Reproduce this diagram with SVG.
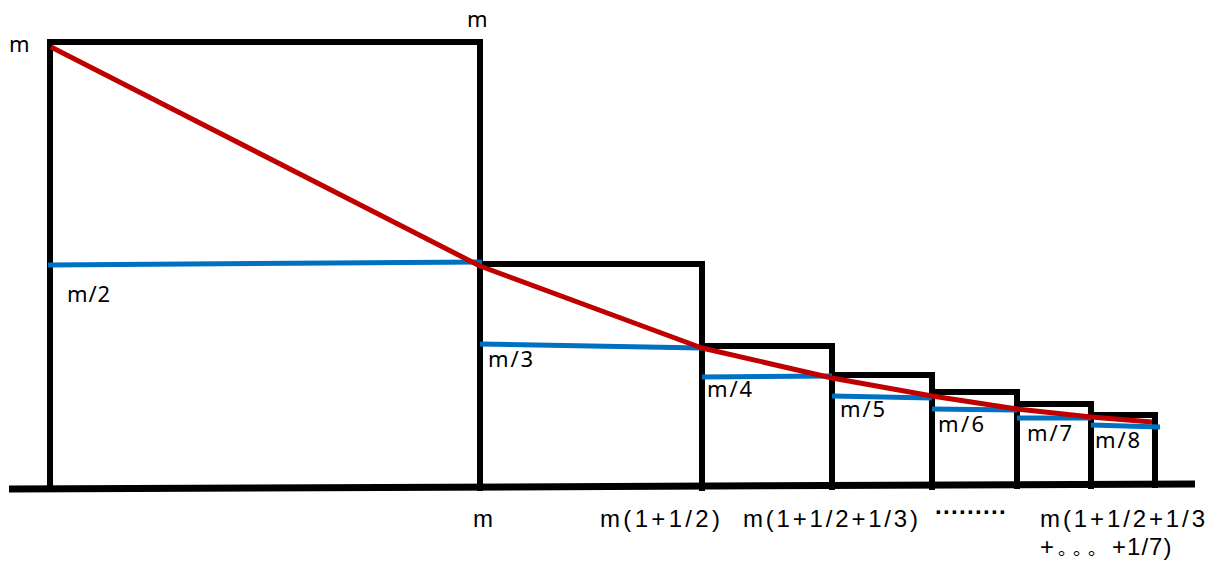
<svg xmlns="http://www.w3.org/2000/svg" width="1222" height="563" viewBox="0 0 1222 563">
<style>
.box{fill:none;stroke:#000;stroke-width:6;stroke-linejoin:miter;stroke-linecap:square}
.axis{fill:none;stroke:#000;stroke-width:7}
.avg{fill:none;stroke:#0070c0;stroke-width:5}
.curve{fill:none;stroke:#c00000;stroke-width:5;stroke-linejoin:round}
.lbl{font-family:"Noto Sans","Liberation Sans",sans-serif;font-size:22px;fill:#000}
.ax{font-family:"Liberation Sans","Noto Sans CJK SC",sans-serif;font-size:24px;fill:#000}
.cj{font-family:"Noto Sans CJK SC",sans-serif;font-size:18px;letter-spacing:6px}
</style>
<rect width="1222" height="563" fill="#fff"/>
<g id="axis"><path class="axis" d="M9,489 L1195,484"/></g>
<g id="box1"><path class="box" d="M50,488 V42 H480 V488"/></g>
<g id="box2"><path class="box" d="M480,488 V264 H702 V488"/></g>
<g id="box3"><path class="box" d="M702,488 V346 H832 V487"/></g>
<g id="box4"><path class="box" d="M832,487 V375 H932 V487"/></g>
<g id="box5"><path class="box" d="M932,487 V392 H1017 V486"/></g>
<g id="box6"><path class="box" d="M1017,486 V404 H1091 V486"/></g>
<g id="box7"><path class="box" d="M1091,486 V415 H1155 V485"/></g>
<g id="connectors">
<path class="avg" d="M48,265 L482,262"/>
<path class="avg" d="M480,344 L702,348"/>
<path class="avg" d="M702,377 L832,376"/>
<path class="avg" d="M832,396 L932,398"/>
<path class="avg" d="M932,409 L1017,410"/>
<path class="avg" d="M1017,418 L1091,418"/>
<path class="avg" d="M1091,425 L1160,427"/>
<path class="curve" d="M51,47 L480,266 L702,348 L832,378 L932,396 L1017,409 L1091,417 L1152,422"/>
</g>
<g id="labels">
<text class="lbl" x="9" y="52" font-size="23">m</text>
<text class="lbl" x="467" y="27" font-size="23">m</text>
<text class="lbl" x="67" y="302" textLength="43">m/2</text>
<text class="lbl" x="488" y="367" textLength="45">m/3</text>
<text class="lbl" x="707" y="397" textLength="45">m/4</text>
<text class="lbl" x="840" y="417" textLength="45">m/5</text>
<text class="lbl" x="938" y="432" textLength="46">m/6</text>
<text class="lbl" x="1027" y="441" textLength="45">m/7</text>
<text class="lbl" x="1095" y="448" textLength="45">m/8</text>
</g>
<g id="axis-labels">
<text class="ax" x="473" y="527" font-size="22">m</text>
<text class="ax" x="600" y="527" textLength="120">m(1+1/2)</text>
<text class="ax" x="743" y="527" textLength="175">m(1+1/2+1/3)</text>
<text class="ax" x="935" y="520" font-size="22" font-weight="bold" textLength="72">·········</text>
<text class="ax" x="1040" y="527" textLength="165">m(1+1/2+1/3</text>
<text class="ax" x="1040" y="555">+<tspan class="cj" dx="4">。。。</tspan><tspan dx="0" letter-spacing="1">+1/7)</tspan></text>
</g>
</svg>
